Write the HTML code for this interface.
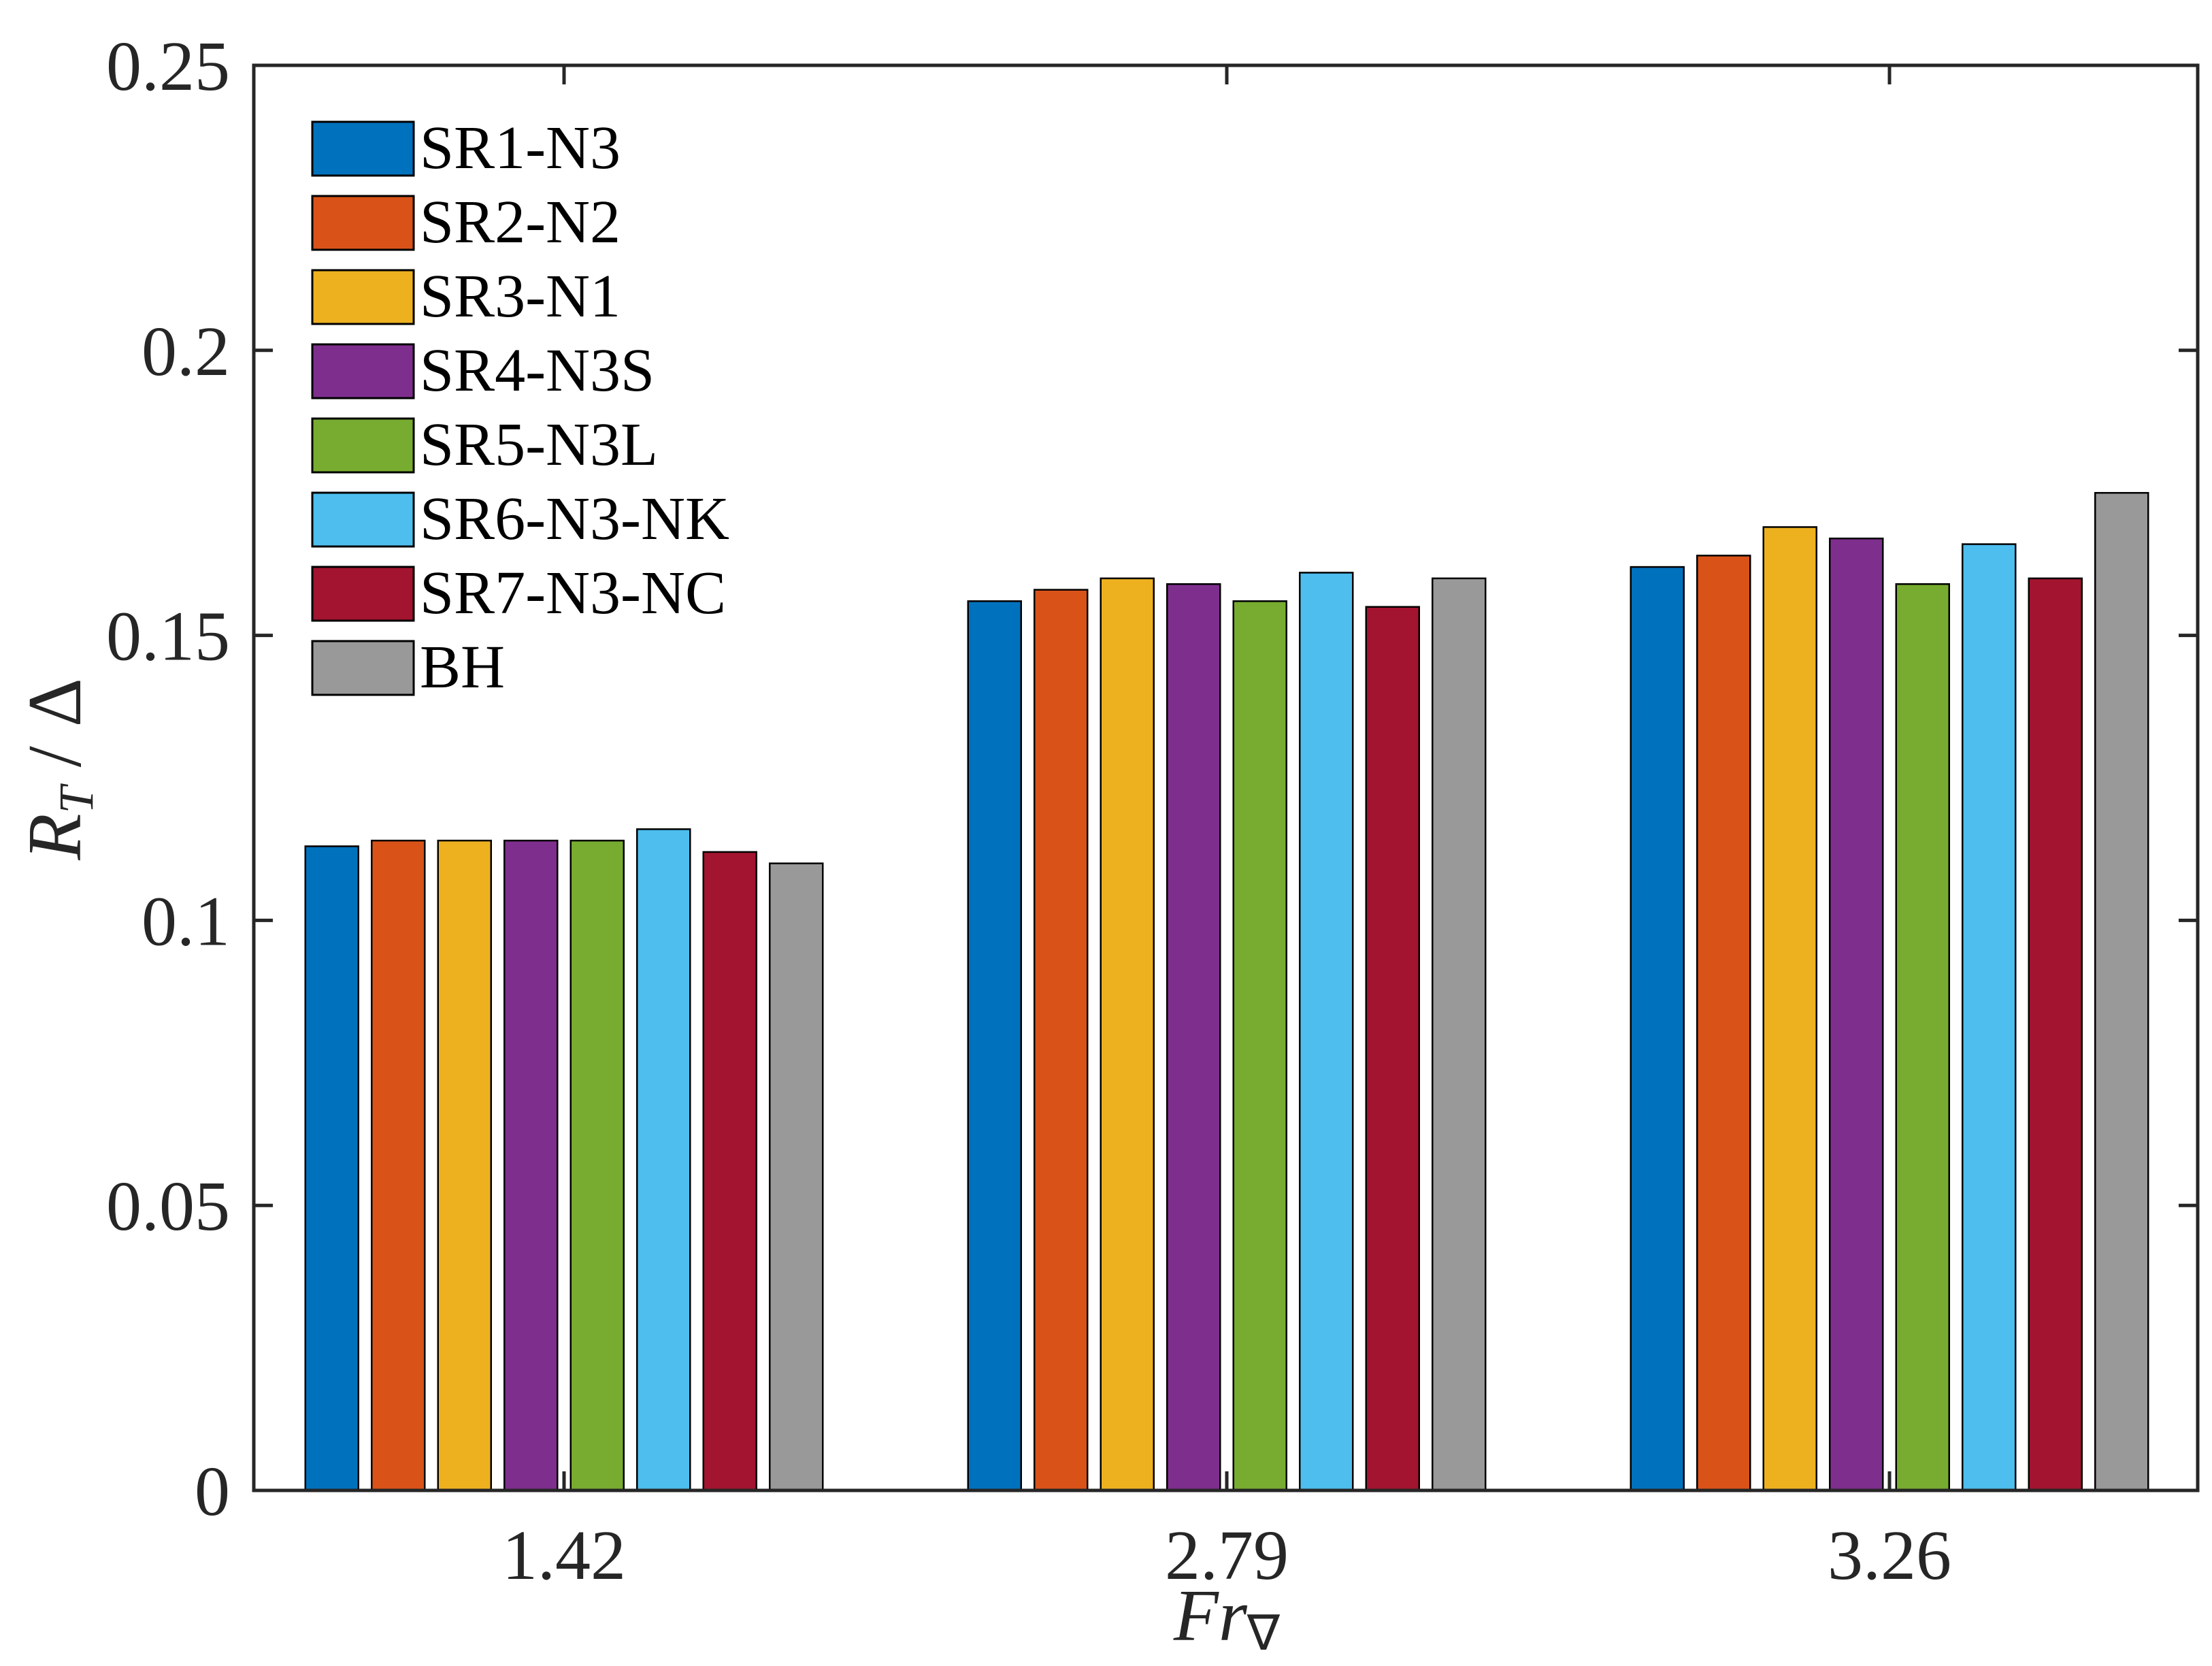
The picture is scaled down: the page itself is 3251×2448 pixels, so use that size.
<!DOCTYPE html>
<html><head><meta charset="utf-8"><style>
html,body{margin:0;padding:0;background:#fff;}
svg{display:block;font-family:"Liberation Serif",serif;}
</style></head><body>
<svg id="chart" width="3251" height="2448" viewBox="0 0 3251 2448">
<g id="bars"></g><g id="axes"></g><g id="legend"></g>
</svg>
<script>
const categories = ["1.42","2.79","3.26"];
const seriesNames = ["SR1-N3","SR2-N2","SR3-N1","SR4-N3S","SR5-N3L","SR6-N3-NK","SR7-N3-NC","BH"];
const colors = ["#0072bd","#d95319","#edb120","#7e2f8e","#77ac30","#4dbeee","#a2142f","#999999"];
const s1 = [0.113,0.156,0.162];
const s2 = [0.114,0.158,0.164];
const s3 = [0.114,0.160,0.169];
const s4 = [0.114,0.159,0.167];
const s5 = [0.114,0.156,0.159];
const s6 = [0.116,0.161,0.166];
const s7 = [0.112,0.155,0.160];
const s8 = [0.110,0.160,0.175];
const series = [s1,s2,s3,s4,s5,s6,s7,s8];
const yTicks = [0,0.05,0.1,0.15,0.2,0.25];
const yTickLabels = ["0","0.05","0.1","0.15","0.2","0.25"];

const NS="http://www.w3.org/2000/svg";
const L=373,R=3230,T=96,B=2190;
const yMax=0.25;
const y=v=>B-(v/yMax)*(B-T);
const gx=i=>829+i*974;
const pitch=97.5,bw=78;
function mk(tag,attrs,parent){const e=document.createElementNS(NS,tag);for(const k in attrs)e.setAttribute(k,attrs[k]);parent.appendChild(e);return e;}
const barsG=document.getElementById('bars'),axG=document.getElementById('axes'),lg=document.getElementById('legend');

series.forEach((s,si)=>{s.forEach((v,ci)=>{
  const cx=gx(ci)+(si-3.5)*pitch;
  const r=mk('rect',{x:cx-bw/2,y:y(v),width:bw,height:B-y(v),fill:colors[si],stroke:'#000','stroke-width':2.5},barsG);
  
  
});});

const box=mk('rect',{x:L,y:T,width:R-L,height:B-T,fill:'none',stroke:'#262626','stroke-width':5},axG);


yTicks.forEach((v,i)=>{
  mk('line',{x1:L,x2:L+28,y1:y(v),y2:y(v),stroke:'#262626','stroke-width':5},axG);
  mk('line',{x1:R,x2:R-28,y1:y(v),y2:y(v),stroke:'#262626','stroke-width':5},axG);
  const t=mk('text',{x:338,y:y(v)+36,'text-anchor':'end','font-size':104,fill:'#262626'},axG);
  t.textContent=yTickLabels[i];
  
  
});
categories.forEach((c,i)=>{
  mk('line',{x1:gx(i),x2:gx(i),y1:B,y2:B-28,stroke:'#262626','stroke-width':5},axG);
  mk('line',{x1:gx(i),x2:gx(i),y1:T,y2:T+28,stroke:'#262626','stroke-width':5},axG);
  const t=mk('text',{x:gx(i),y:2320,'text-anchor':'middle','font-size':104,fill:'#262626'},axG);
  t.textContent=c;
  
  
});
const xl=mk('text',{x:1803,y:2410,'text-anchor':'middle','font-size':108,'font-style':'italic',fill:'#262626'},axG);
xl.innerHTML='Fr<tspan font-style="normal" font-size="72" dy="14">∇</tspan>';


const yl=mk('text',{x:0,y:0,transform:'translate(118,1130) rotate(-90)','text-anchor':'middle','font-size':112,fill:'#262626'},axG);
yl.innerHTML='<tspan font-style="italic">R</tspan><tspan font-style="italic" font-size="72" dy="18">T</tspan><tspan dy="-18"> / Δ</tspan>';



seriesNames.forEach((n,i)=>{
  const yy=179+i*109;
  const r=mk('rect',{x:459,y:yy,width:149,height:79,fill:colors[i],stroke:'#000','stroke-width':3},lg);
  
  
  const t=mk('text',{x:617,y:yy+68,'font-size':90,fill:'#000'},lg);
  t.textContent=n;
  
  
});
</script>
</body></html>
